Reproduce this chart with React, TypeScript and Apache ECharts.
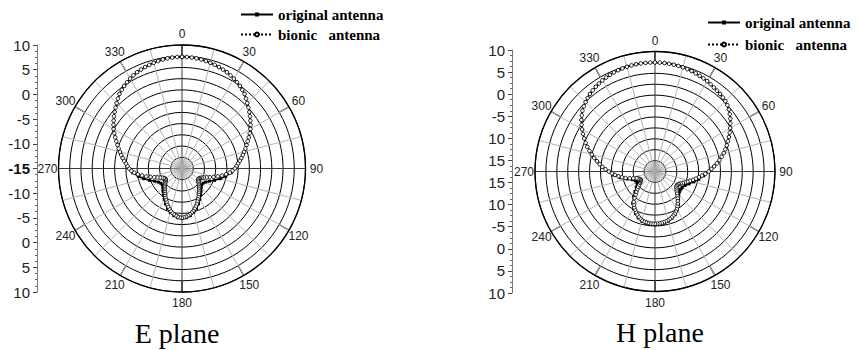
import React, { useEffect, useRef } from 'react';
import * as echarts from 'echarts';

// ---------- data ----------
const seriesNames = ['original antenna', 'bionic   antenna'];
const planeTitles = ['E plane', 'H plane'];
const angleTicks = [0, 30, 60, 90, 120, 150, 180, 210, 240, 270, 300, 330];
const angleTickLabels = ['0', '30', '60', '90', '120', '150', '180', '210', '240', '270', '300', '330'];
// left axis tick labels, top to bottom
const eAxisLabels = ['10', '5', '0', '-5', '-10', '-15', '-10', '-5', '0', '5', '10'];
const hAxisLabels = ['10', '5', '0', '-5', '10', '15', '15', '10', '-5', '0', '5', '10'];

// E plane, dB, original antenna every 5 deg from 0 (clockwise)
const eOriginal = [
  7.6, 7.55, 7.4, 7.15, 6.85, 6.5, 6.0, 5.4, 4.7, 3.7, 2.8, 1.9, 1.0, -0.1, -1.1, -2.0, -2.8, -3.6, -4.3,
  -5.0, -6.0, -7.0, -8.0, -8.9, -9.5, -9.8, -9.8, -9.5, -9.0, -8.4, -7.8, -7.1, -6.4, -5.8, -5.3, -5.0, -4.9,
  -5.0, -5.3, -5.8, -6.4, -7.1, -7.8, -8.4, -9.0, -9.5, -9.8, -9.8, -9.5, -8.9, -8.0, -7.0, -6.0, -5.0,
  -4.3, -3.6, -2.8, -2.0, -1.1, -0.1, 1.0, 1.9, 2.8, 3.7, 4.7, 5.4, 6.0, 6.5, 6.85, 7.15, 7.4, 7.55,
];
// E plane, dB, bionic antenna every 2.5 deg from 0
const eBionic = [
  7.6, 7.59, 7.55, 7.48, 7.4, 7.28, 7.15, 7.0, 6.85, 6.68,
  6.5, 6.25, 6.0, 5.7, 5.4, 5.05, 4.7, 4.2, 3.7, 3.25,
  2.8, 2.35, 1.9, 1.45, 1.0, 0.45, -0.1, -0.6, -1.1, -1.55,
  -2.0, -2.4, -2.8, -3.2, -3.6, -3.95, -4.3, -4.75, -5.3, -6.0,
  -6.8, -7.6, -8.4, -9.1, -9.7, -10.2, -10.6, -10.85, -11.0, -11.05,
  -11.0, -10.8, -10.6, -10.35, -10.1, -9.85, -9.6, -9.3, -9.0, -8.65,
  -8.3, -7.95, -7.6, -7.2, -6.8, -6.45, -6.1, -5.85, -5.6, -5.4,
  -5.2, -5.08, -5.0, -5.08, -5.2, -5.4, -5.6, -5.85, -6.1, -6.45,
  -6.8, -7.2, -7.6, -7.95, -8.3, -8.65, -9.0, -9.3, -9.6, -9.85,
  -10.1, -10.35, -10.6, -10.8, -11.0, -11.05, -11.0, -10.85, -10.6, -10.2,
  -9.7, -9.1, -8.4, -7.6, -6.8, -6.0, -5.3, -4.75, -4.3, -3.95,
  -3.6, -3.2, -2.8, -2.4, -2.0, -1.55, -1.1, -0.6, -0.1, 0.45,
  1.0, 1.45, 1.9, 2.35, 2.8, 3.25, 3.7, 4.2, 4.7, 5.05,
  5.4, 5.7, 6.0, 6.25, 6.5, 6.68, 6.85, 7.0, 7.15, 7.28,
  7.4, 7.48, 7.55, 7.59,
];
// H plane, dB, original antenna every 5 deg
const hOriginal = [
  7.5, 7.45, 7.35, 7.2, 7.0, 6.7, 6.4, 6.0, 5.7, 5.3, 4.6, 3.6, 2.4, 1.2, 0.0, -1.2, -2.5, -3.9, -5.2,
  -6.3, -7.3, -8.3, -9.2, -9.9, -10.3, -10.4, -10.2, -9.8, -9.1, -8.2, -7.3, -6.6, -6.1, -5.7, -5.5, -5.35, -5.3,
  -5.35, -5.5, -5.75, -6.2, -6.9, -7.7, -8.6, -9.9, -11.0, -11.9, -12.5, -12.7, -12.5, -12.0, -10.9, -9.4, -8.0,
  -6.9, -5.4, -4.0, -2.5, -1.0, 0.4, 1.8, 3.1, 4.2, 5.0, 5.7, 6.2, 6.6, 6.95, 7.2, 7.35, 7.45, 7.5,
];
// H plane, dB, bionic antenna every 2.5 deg
const hBionic = [
  7.5, 7.49, 7.45, 7.4, 7.35, 7.28, 7.2, 7.1, 7.0, 6.85,
  6.7, 6.55, 6.4, 6.2, 6.0, 5.85, 5.7, 5.5, 5.3, 5.0,
  4.6, 4.1, 3.6, 3.0, 2.4, 1.8, 1.2, 0.6, 0.0, -0.6,
  -1.2, -1.85, -2.5, -3.2, -3.9, -4.55, -5.2, -5.95, -6.7, -7.35,
  -8.0, -8.6, -9.2, -9.7, -10.2, -10.6, -11.0, -11.3, -11.5, -11.55,
  -11.5, -11.3, -11.0, -10.7, -10.3, -9.85, -9.4, -8.9, -8.4, -7.95,
  -7.5, -7.15, -6.8, -6.55, -6.3, -6.1, -5.9, -5.8, -5.7, -5.62,
  -5.55, -5.52,
  -5.5, -5.52, -5.55, -5.62, -5.7, -5.8, -5.95, -6.2, -6.5, -6.85,
  -7.2, -7.6, -8.0, -8.5, -9.0, -9.8, -10.6, -11.2, -11.8, -12.3,
  -12.8, -13.2, -13.5, -13.65, -13.7, -13.65, -13.5, -13.3, -13.0, -12.3,
  -11.5, -10.6, -9.8, -9.05, -8.3, -7.6, -6.9, -6.15, -5.4, -4.7,
  -4.0, -3.25, -2.5, -1.75, -1.0, -0.3, 0.4, 1.1, 1.8, 2.45,
  3.1, 3.65, 4.2, 4.6, 5.0, 5.35, 5.7, 5.95, 6.2, 6.4,
  6.6, 6.78, 6.95, 7.08, 7.2, 7.28, 7.35, 7.4, 7.45, 7.48,
  7.5, 7.5,
];

// ---------- helpers ----------
const toPolar = (vals: number[]) => {
  const step = 360 / vals.length;
  const pts = vals.map((v, i) => [v, i * step]);
  pts.push([vals[0], 360]);
  return pts;
};

const SANS = '"Liberation Sans", Arial, sans-serif';
const SERIF = '"Liberation Serif", "Times New Roman", serif';

const planes = [
  { center: [182, 168.5], radius: 123.5, hub: 11.2, rMin: -15, rMax: 10, rInterval: 25 / 11,
    axisLeft: 37, axisTop: 45, axisHeight: 247, yMin: -25, yMax: 25, labels: eAxisLabels,
    original: eOriginal, bionic: eBionic, legendLeft: 240, legendTop: 7, legendGap: 5,
    titleX: 177, titleY: 333 },
  { center: [655, 171.5], radius: 120, hub: 11, rMin: -17.5, rMax: 10, rInterval: 2.5,
    axisLeft: 512, axisTop: 50, axisHeight: 243, yMin: -27.5, yMax: 27.5, labels: hAxisLabels,
    original: hOriginal, bionic: hBionic, legendLeft: 707, legendTop: 15, legendGap: 7,
    titleX: 660, titleY: 332 },
];
const LABEL_GAP = 11; // px beyond outer ring (label centre)

function buildOption() {
  const polar: any[] = [];
  const angleAxis: any[] = [];
  const radiusAxis: any[] = [];
  const grid: any[] = [];
  const xAxis: any[] = [];
  const yAxis: any[] = [];
  const series: any[] = [];
  const legend: any[] = [];

  planes.forEach((p, k) => {
    const mainIdx = polar.length;
    polar.push({ center: p.center, radius: p.radius });
    const hubIdx = polar.length;
    polar.push({ center: p.center, radius: p.hub });

    angleAxis.push({
      polarIndex: mainIdx, type: 'value', min: 0, max: 360, interval: 30, startAngle: 90, clockwise: true,
      axisLine: { show: true, lineStyle: { color: '#000', width: 1.3 } },
      axisTick: { show: true, inside: true, length: 11, lineStyle: { color: '#000', width: 1.2 } },
      axisLabel: { show: false },
      splitLine: { show: true, lineStyle: { color: ['#3a3a3a', '#b4b4b4', '#b4b4b4'], width: 1 } },
      minorTick: { show: false, splitNumber: 2 },
      minorSplitLine: { show: true, lineStyle: { color: '#b4b4b4', width: 1 } },
      z: 1,
    });
    angleAxis.push({
      polarIndex: hubIdx, type: 'value', min: 0, max: 360, interval: 10, startAngle: 90, clockwise: true,
      axisLine: { show: false }, axisTick: { show: false }, axisLabel: { show: false },
      splitLine: { show: true, lineStyle: { color: '#a8a8a8', width: 0.6 } },
      z: 1,
    });
    radiusAxis.push({
      polarIndex: mainIdx, type: 'value', min: p.rMin, max: p.rMax, interval: p.rInterval,
      axisLine: { show: false }, axisTick: { show: false }, axisLabel: { show: false },
      splitLine: { show: true, lineStyle: { color: '#000', width: 1 } },
      z: 1,
    });
    radiusAxis.push({
      polarIndex: hubIdx, type: 'value', min: 0, max: 1,
      axisLine: { show: false }, axisTick: { show: false }, axisLabel: { show: false },
      splitLine: { show: false },
    });

    grid.push({ left: p.axisLeft, top: p.axisTop, width: 1, height: p.axisHeight, containLabel: false });
    xAxis.push({ gridIndex: k, type: 'value', show: false, min: 0, max: 1 });
    yAxis.push({
      gridIndex: k, type: 'value', min: p.yMin, max: p.yMax, interval: 5,
      axisLine: { show: true, lineStyle: { color: '#777', width: 1 } },
      axisTick: { show: true, length: 4, lineStyle: { color: '#444', width: 1 } },
      minorTick: { show: true, splitNumber: 4, length: 2, lineStyle: { color: '#666', width: 1 } },
      splitLine: { show: false },
      axisLabel: {
        show: true, margin: 7, fontSize: 15, fontFamily: SANS, color: '#222',
        formatter: (v: number) => {
          const s = p.labels[Math.round((p.yMax - v) / 5)] ?? '';
          return s === '-15' ? '{b|' + s + '}' : s;
        },
        rich: { b: { fontWeight: 'bold', fontSize: 15, fontFamily: SANS, color: '#111' } },
      },
    });

    series.push({
      type: 'line', name: seriesNames[0], coordinateSystem: 'polar', polarIndex: mainIdx,
      data: toPolar(p.original), symbol: 'rect', symbolSize: 3, showSymbol: true,
      lineStyle: { color: '#000', width: 1.5 }, itemStyle: { color: '#000' }, z: 3, silent: true,
    });
    series.push({
      type: 'line', name: seriesNames[1], coordinateSystem: 'polar', polarIndex: mainIdx,
      data: toPolar(p.bionic), symbol: 'circle', symbolSize: 3.6, showSymbol: true,
      lineStyle: { color: '#000', width: 1, type: 'dotted' },
      itemStyle: { color: '#fff', borderColor: '#000', borderWidth: 0.9 }, z: 4, silent: true,
    });

    legend.push({
      data: seriesNames, left: p.legendLeft, top: p.legendTop, orient: 'vertical',
      itemWidth: 32, itemHeight: 5, itemGap: p.legendGap, selectedMode: false, padding: 0,
      textStyle: { fontFamily: SERIF, fontWeight: 'bold', fontSize: 15, color: '#000' },
    });
  });

  const graphic = planes.map((p, k) => ({
    type: 'text', id: 'title' + k, x: p.titleX, y: p.titleY,
    style: { text: planeTitles[k], font: '28px ' + SERIF, fill: '#000', align: 'center', verticalAlign: 'middle' },
  }));

  return {
    animation: false,
    backgroundColor: '#fff',
    polar, angleAxis, radiusAxis, grid, xAxis, yAxis, series, legend, graphic,
  };
}

function angleLabelGraphics(chart: echarts.ECharts) {
  const out: any[] = [];
  planes.forEach((p, k) => {
    const rLabel = p.rMax + (LABEL_GAP * (p.rMax - p.rMin)) / p.radius;
    angleTicks.forEach((a, i) => {
      const pt = chart.convertToPixel({ polarIndex: k * 2 } as any, [rLabel, a]) as any;
      if (!pt) return;
      out.push({
        type: 'text', id: 'al' + k + '_' + i, x: pt[0], y: pt[1], silent: true,
        style: { text: angleTickLabels[i], font: '12px ' + SANS, fill: '#222', align: 'center', verticalAlign: 'middle' },
      });
    });
  });
  return out;
}

export default function App() {
  const ref = useRef<HTMLDivElement>(null);
  useEffect(() => {
    if (!ref.current) return;
    const chart = echarts.init(ref.current, undefined, { renderer: 'svg' });
    const option: any = buildOption();
    chart.setOption(option);
    chart.setOption({ graphic: [...option.graphic, ...angleLabelGraphics(chart)] });
    return () => chart.dispose();
  }, []);
  return <div ref={ref} style={{ position: 'fixed', left: 0, top: 0, width: 858, height: 350 }} />;
}
